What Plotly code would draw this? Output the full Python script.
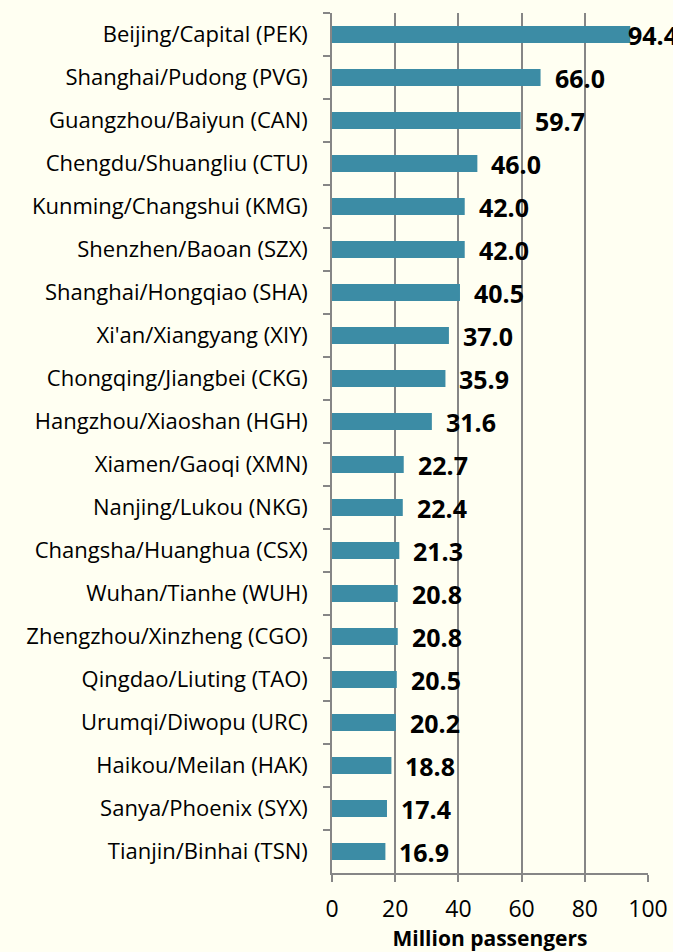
import plotly.graph_objects as go

airports = [
    "Beijing/Capital (PEK)", "Shanghai/Pudong (PVG)", "Guangzhou/Baiyun (CAN)",
    "Chengdu/Shuangliu (CTU)", "Kunming/Changshui (KMG)", "Shenzhen/Baoan (SZX)",
    "Shanghai/Hongqiao (SHA)", "Xi'an/Xiangyang (XIY)", "Chongqing/Jiangbei (CKG)",
    "Hangzhou/Xiaoshan (HGH)", "Xiamen/Gaoqi (XMN)", "Nanjing/Lukou (NKG)",
    "Changsha/Huanghua (CSX)", "Wuhan/Tianhe (WUH)", "Zhengzhou/Xinzheng (CGO)",
    "Qingdao/Liuting (TAO)", "Urumqi/Diwopu (URC)", "Haikou/Meilan (HAK)",
    "Sanya/Phoenix (SYX)", "Tianjin/Binhai (TSN)",
]
passengers = [94.4, 66.0, 59.7, 46.0, 42.0, 42.0, 40.5, 37.0, 35.9, 31.6,
              22.7, 22.4, 21.3, 20.8, 20.8, 20.5, 20.2, 18.8, 17.4, 16.9]
x_ticks = [0, 20, 40, 60, 80, 100]

BG = "#FFFFF2"
BAR = "#3C8CA5"
GRID = "#868686"
FONT = "Open Sans"

fig = go.Figure(go.Bar(
    x=passengers, y=airports, orientation="h",
    marker=dict(color=BAR, line=dict(width=0)),
    hoverinfo="skip",
))

for a, v in zip(airports, passengers):
    fig.add_annotation(
        x=v, y=a, xref="x", yref="y", text=f"<b>{v:.1f}</b>",
        showarrow=False, xanchor="left", yanchor="middle",
        xshift=(-4 if v > 90 else 12),
        font=dict(family=FONT, size=25, color="#000000"),
    )

fig.update_layout(
    width=673, height=952,
    paper_bgcolor=BG, plot_bgcolor=BG,
    margin=dict(l=332, r=25, t=13, b=79),
    bargap=0.6,
    showlegend=False,
    font=dict(family=FONT, color="#000000"),
)
fig.update_xaxes(
    range=[0, 100], tickvals=x_ticks, ticktext=[str(t) for t in x_ticks],
    showgrid=True, gridcolor=GRID, gridwidth=1.5,
    showline=True, linecolor=GRID, linewidth=1.5,
    ticks="outside", ticklen=7, tickcolor=GRID, tickwidth=1.5,
    tickfont=dict(family=FONT, size=23, color="#000000"),
    ticklabelstandoff=8,
    zeroline=False, automargin=False,
    title=dict(text="<b>Million passengers</b>", font=dict(family=FONT, size=21, color="#000000"), standoff=0),
)
fig.update_yaxes(
    autorange="reversed", type="category",
    showline=True, linecolor=GRID, linewidth=1.5,
    ticks="outside", ticklen=7, tickcolor=GRID, tickwidth=1.5,
    tickson="boundaries", showgrid=False,
    tickfont=dict(family=FONT, size=22, color="#000000"),
    ticklabelstandoff=18, automargin=False,
)

fig.write_html(
    "out.html",
    config={"displayModeBar": False},
    post_script="document.body.style.margin='0';document.body.style.background='" + BG + "';document.body.style.overflow='hidden';",
)
